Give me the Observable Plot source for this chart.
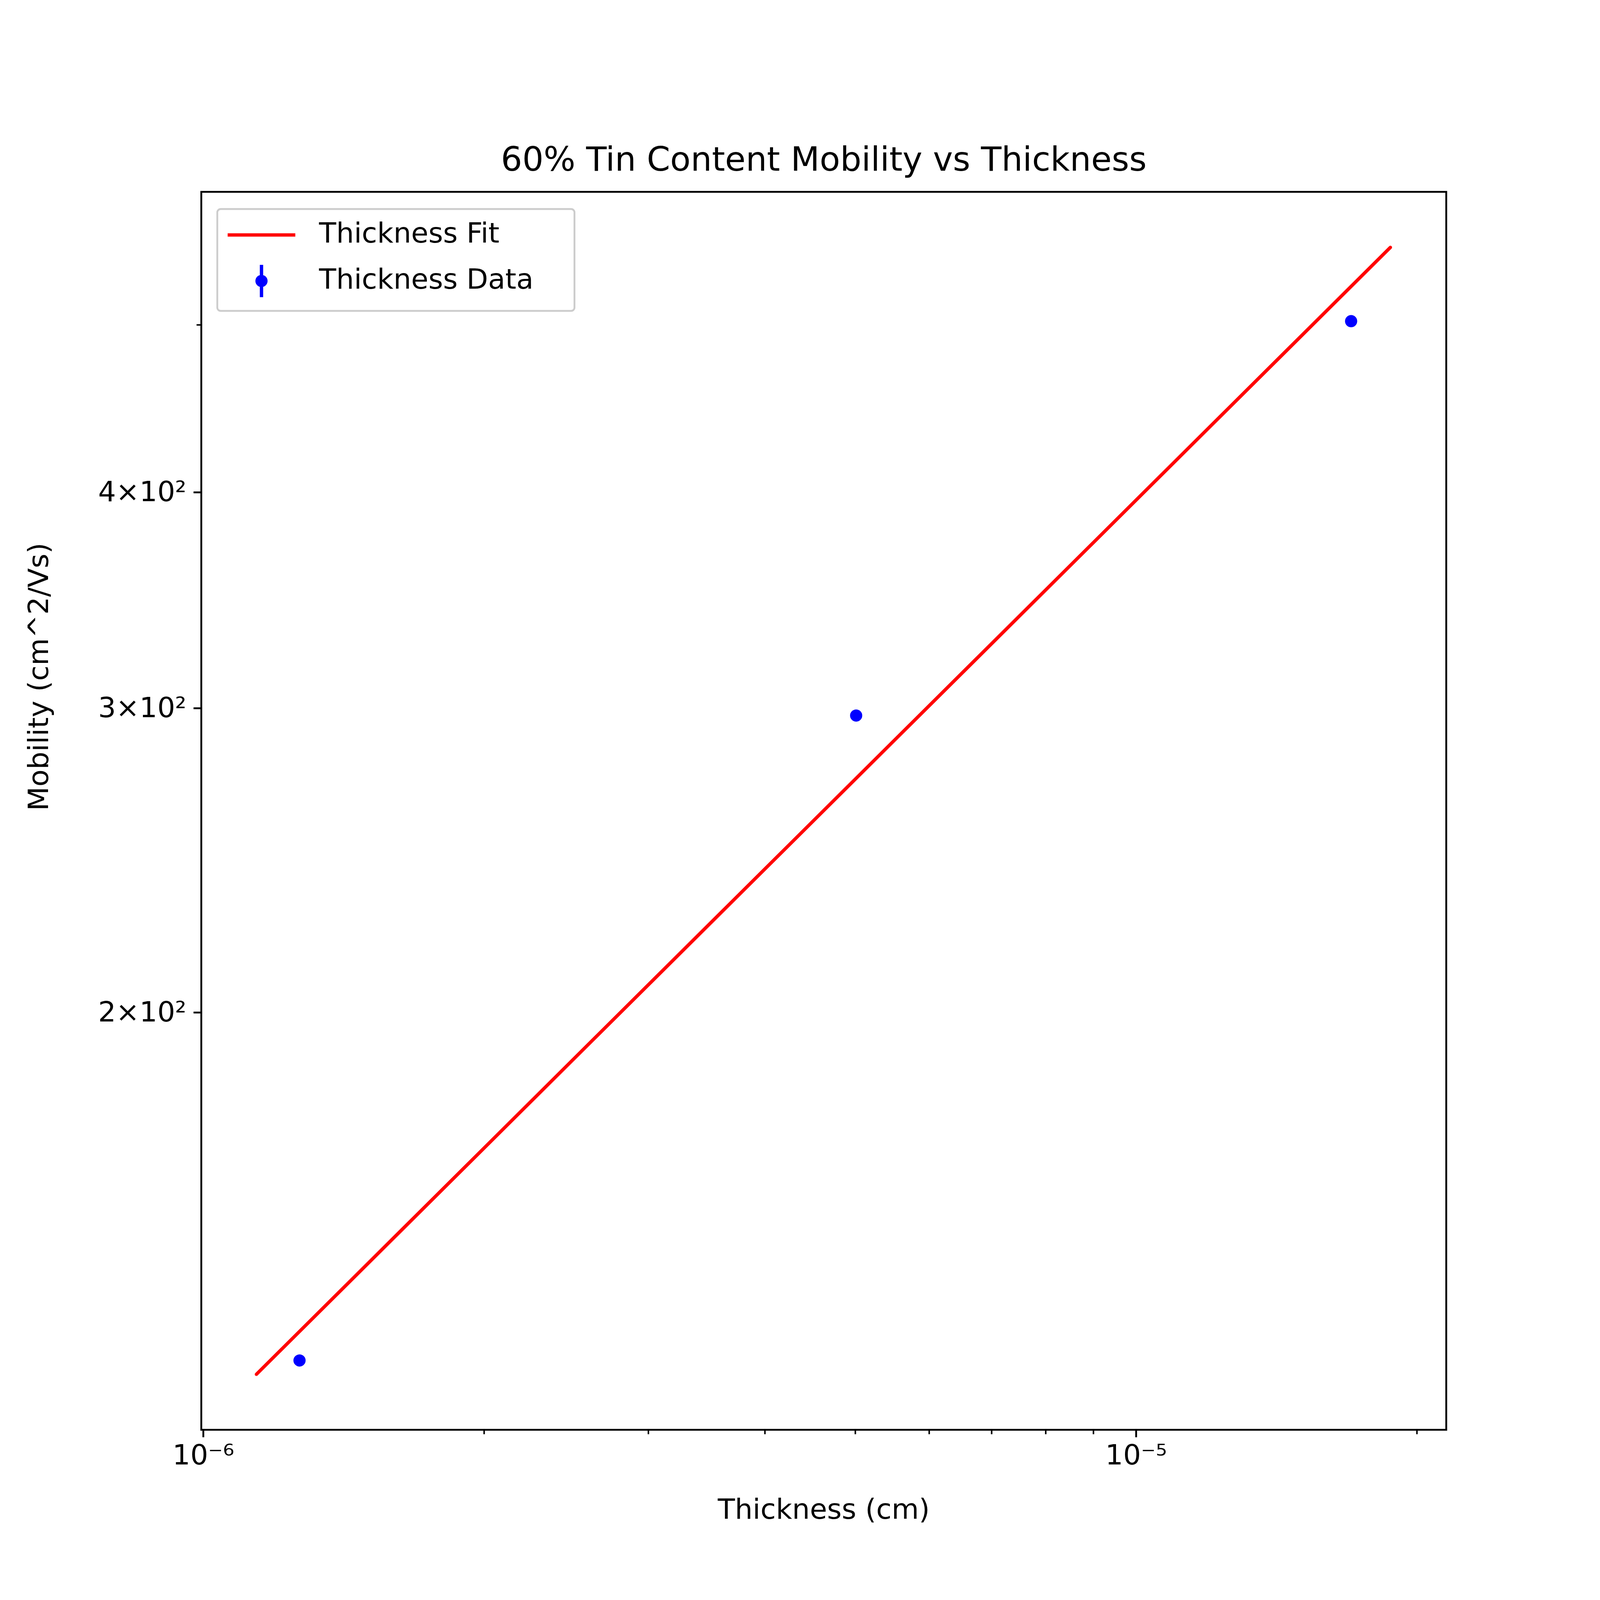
<!DOCTYPE html>
<html>
<head>
<meta charset="utf-8">
<script src="https://cdn.jsdelivr.net/npm/d3@7"></script>
<script src="https://cdn.jsdelivr.net/npm/@observablehq/plot@0.6"></script>
<style>
  html, body { margin: 0; background: #fff; overflow: hidden; }
  #wrap { position: relative; width: 5250px; height: 5250px; font-family: "DejaVu Sans", sans-serif; transform-origin: 0 0; }
  #legend { position: absolute; left: 710px; top: 683px; width: 1178px; height: 340px;
    border: 6px solid #ccc; border-radius: 14px; background: rgba(255,255,255,0.8); box-sizing: border-box; }
</style>
</head>
<body>
<div id="wrap">
  <div id="chart"></div>
  <div id="legend">
    <svg width="1178" height="340" style="position:absolute;left:-6px;top:-6px">
      <line x1="37" x2="259" y1="88" y2="88" stroke="red" stroke-width="11"/>
      <line x1="148" x2="148" y1="186" y2="292" stroke="blue" stroke-width="11"/>
      <circle cx="148" cy="239" r="20" fill="blue"/>
      <text x="337" y="113" font-size="92" font-family="DejaVu Sans">Thickness Fit</text>
      <text x="337" y="264" font-size="92" font-family="DejaVu Sans">Thickness Data</text>
    </svg>
  </div>
</div>
<script>
// measured points
const thickness = [1.268e-6, 5.01e-6, 1.70e-5];
const mobility = [125.8, 297.1, 502.5];
// fit line endpoints
const fitX = [1.14e-6, 1.873e-5];
const fitY = [123.5, 554.4];

const xMajor = [1e-6, 1e-5];
const xMinor = [2e-6, 3e-6, 4e-6, 5e-6, 6e-6, 7e-6, 8e-6, 9e-6, 2e-5];
const yLabelled = [200, 300, 400];
const yLabels = ["2\u00d710\u00b2", "3\u00d710\u00b2", "4\u00d710\u00b2"];
const yUnlabelled = [500];

const data = thickness.map((x, i) => ({x, y: mobility[i]}));
const fit = fitX.map((x, i) => ({x, y: fitY[i]}));

const chart = Plot.plot({
  width: 5250,
  height: 5250,
  marginLeft: 660,
  marginRight: 505,
  marginTop: 629,
  marginBottom: 559,
  style: {fontFamily: "DejaVu Sans", fontSize: "92px", background: "white", color: "black", maxWidth: "none"},
  x: {type: "log", domain: [0.995e-6, 2.15e-5]},
  y: {type: "log", domain: [114.7, 597]},
  marks: [
    Plot.axisX({ticks: xMajor, tickSize: 25, strokeWidth: 6, tickPadding: 24, fontSize: 92,
      tickFormat: d => d === 1e-6 ? "10\u207b\u2076" : "10\u207b\u2075", label: null}),
    Plot.axisX({ticks: xMinor, tickSize: 15, strokeWidth: 5, tickFormat: () => "", label: null}),
    Plot.axisY({ticks: yLabelled, tickSize: 25, strokeWidth: 6, tickPadding: 24, fontSize: 92,
      tickFormat: d => yLabels[yLabelled.indexOf(d)], label: null}),
    Plot.axisY({ticks: yUnlabelled, tickSize: 15, strokeWidth: 5, tickFormat: () => "", label: null}),
    Plot.line(fit, {x: "x", y: "y", stroke: "red", strokeWidth: 11}),
    Plot.dot(data, {x: "x", y: "y", r: 20, fill: "blue"}),
    Plot.frame({stroke: "black", strokeWidth: 6}),
    Plot.text(["60% Tin Content Mobility vs Thickness"], {frameAnchor: "top", dy: -70, fontSize: 110, lineAnchor: "bottom"}),
    Plot.text(["Thickness (cm)"], {frameAnchor: "bottom", dy: 262, fontSize: 92, lineAnchor: "middle"}),
    Plot.text(["Mobility (cm^2/Vs)"], {frameAnchor: "left", dx: -532, rotate: -90, fontSize: 92})
  ]
});
d3.select("#chart").append(() => chart);

function fitPage() {
  const s = Math.min(window.innerWidth, window.innerHeight) / 5250;
  document.getElementById("wrap").style.transform = `scale(${s})`;
}
fitPage();
window.addEventListener("resize", fitPage);
</script>
</body>
</html>
